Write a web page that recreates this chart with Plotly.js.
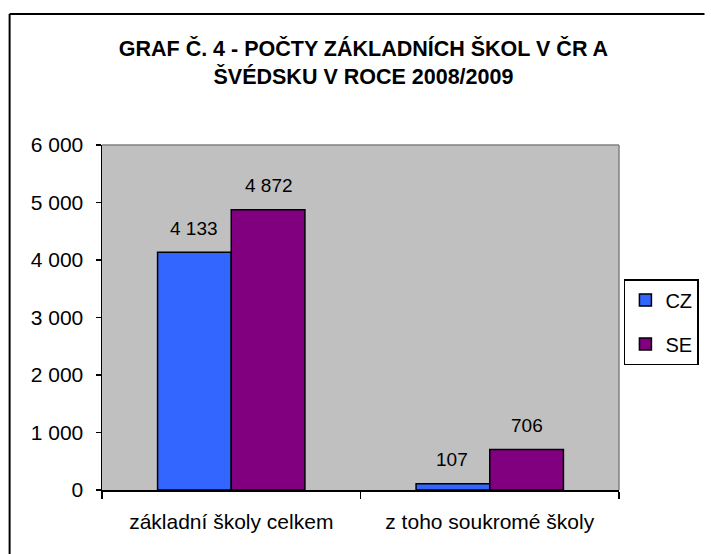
<!DOCTYPE html>
<html>
<head>
<meta charset="utf-8">
<script src="https://cdn.plot.ly/plotly-3.0.1.min.js"></script>
<style>
html,body{margin:0;padding:0;background:#fff;}
#chart{width:711px;height:554px;}
</style>
</head>
<body>
<div id="chart"></div>
<script>
// ---- data ----
const categories = ["základní školy celkem", "z toho soukromé školy"];
const seriesNames = ["CZ", "SE"];
const valuesCZ = [4133, 107];
const valuesSE = [4872, 706];
const yTickValues = [0, 1000, 2000, 3000, 4000, 5000, 6000];
const chartTitle = "GRAF Č. 4 - POČTY ZÁKLADNÍCH ŠKOL V ČR A<br>ŠVÉDSKU V ROCE 2008/2009";

// ---- styles ----
const FONT = "Liberation Sans, Arial, sans-serif";
const colCZ = "#3366ff";
const colSE = "#800080";

function fmt(v){ return String(v).replace(/\B(?=(\d{3})+(?!\d))/g, " "); }

const W = 711, H = 554;
const mL = 102, mR = 83, mT = 145, mB = 64;
const plotW = W - mL - mR, plotH = H - mT - mB;

const traces = [
  {type:"bar", name:seriesNames[0], x:categories, y:valuesCZ, legendgroup:"a",
   marker:{color:colCZ, line:{color:"#000", width:1.5}}, hoverinfo:"y"},
  {type:"bar", name:seriesNames[1], x:categories, y:valuesSE, legendgroup:"b",
   marker:{color:colSE, line:{color:"#000", width:1.5}}, hoverinfo:"y"}
];

const annotations = [];
const barHalf = 37.5;
[valuesCZ, valuesSE].forEach((vals, si) => {
  vals.forEach((v, ci) => {
    annotations.push({
      x: categories[ci], y: v, xref:"x", yref:"y",
      text: fmt(v), showarrow:false,
      xshift: si === 0 ? -barHalf : barHalf, yshift: 24,
      xanchor:"center", yanchor:"middle",
      font:{family:FONT, size:19, color:"#000"}
    });
  });
});

// frame border (left & top visible), plot area border top/right
const px2x = p => (p - mL) / plotW;
const py2y = p => (H - mB - p) / plotH;
const shapes = [
  {type:"line", xref:"paper", yref:"paper", x0:px2x(8), x1:px2x(8), y0:py2y(560), y1:py2y(14), line:{color:"#000", width:2}},
  {type:"line", xref:"paper", yref:"paper", x0:px2x(8), x1:px2x(715), y0:py2y(14), y1:py2y(14), line:{color:"#000", width:2}},
  {type:"line", xref:"paper", yref:"paper", x0:0, x1:1, y0:1, y1:1, line:{color:"#808080", width:1.5}},
  {type:"line", xref:"paper", yref:"paper", x0:1, x1:1, y0:0, y1:1, line:{color:"#808080", width:1.5}}
];

const layout = {
  width:W, height:H,
  margin:{l:mL, r:mR, t:mT, b:mB, pad:0},
  paper_bgcolor:"#fff", plot_bgcolor:"#c0c0c0",
  separators:", ",
  font:{family:FONT, color:"#000"},
  title:{text:chartTitle, x:px2x(368), xref:"paper", xanchor:"center",
         y:1 - 56/H, yref:"container", yanchor:"top",
         font:{family:FONT, size:21.5, color:"#000", weight:"bold"}},
  barmode:"group", bargap:0.43, bargroupgap:0,
  xaxis:{type:"category", showgrid:false, zeroline:false,
         showline:true, linecolor:"#000", linewidth:1.5,
         ticks:"outside", tickson:"boundaries", ticklen:7, tickwidth:1.5, tickcolor:"#000",
         tickfont:{family:FONT, size:21, color:"#000"}, ticklabelstandoff:12, fixedrange:true},
  yaxis:{range:[0,6000], tickvals:yTickValues, tickformat:",d", showgrid:false, zeroline:false,
         showline:true, linecolor:"#000", linewidth:1.5,
         ticks:"outside", ticklen:5, tickwidth:1.5, tickcolor:"#000",
         tickfont:{family:FONT, size:21, color:"#000"}, ticklabelstandoff:8, fixedrange:true},
  showlegend:true,
  legend:{x:px2x(633), y:py2y(279), xanchor:"left", yanchor:"top",
          bgcolor:"#fff", bordercolor:"#000", borderwidth:1.5,
          font:{family:FONT, size:20, color:"#000"}, tracegroupgap:15,
          itemwidth:30},
  annotations:annotations, shapes:shapes
};

Plotly.newPlot("chart", traces, layout, {displayModeBar:false, staticPlot:true});
</script>
</body>
</html>
